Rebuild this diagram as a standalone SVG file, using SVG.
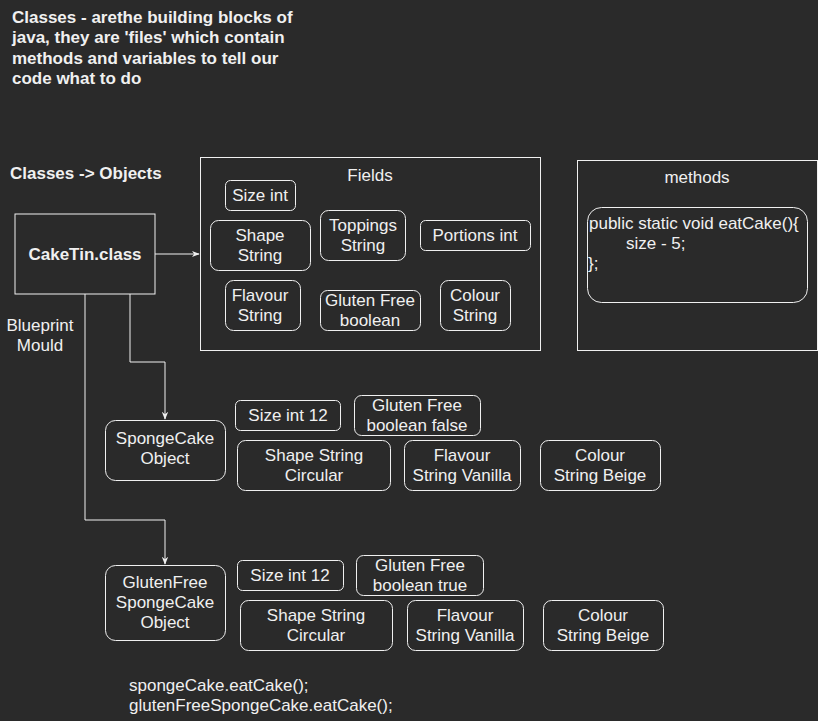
<svg xmlns="http://www.w3.org/2000/svg" width="818" height="721" viewBox="0 0 818 721">
<defs>
<style>
text{font-family:"Liberation Sans",Arial,sans-serif;fill:#f0f0f0;font-size:17px}
.t{text-anchor:middle}
.b{font-weight:bold;font-size:17px}
.box{fill:#2a2a2a;stroke:#f0f0f0;stroke-width:1}
.edge{fill:none;stroke:#f0f0f0;stroke-width:1}
</style>
<marker id="arr" viewBox="0 0 10 10" refX="9" refY="5" markerWidth="8" markerHeight="8" orient="auto" markerUnits="userSpaceOnUse">
<path d="M0,1 L10,5 L0,9 L3,5 Z" fill="#f0f0f0"/>
</marker>
</defs>
<rect width="818" height="721" fill="#2a2a2a"/>

<g id="title">
<text class="b" x="12" y="23">Classes - arethe building blocks of</text>
<text class="b" x="12" y="43">java, they are 'files' which contain</text>
<text class="b" x="12" y="64">methods and variables to tell our</text>
<text class="b" x="12" y="84">code what to do</text>
</g>
<g id="subtitle"><text class="b" x="10" y="179">Classes -&gt; Objects</text></g>
<g id="blueprint"><text class="t" x="40" y="331">Blueprint</text><text class="t" x="40" y="351">Mould</text></g>

<g id="connectors">
<path class="edge" d="M155,254 L199,254" marker-end="url(#arr)"/>
<path class="edge" d="M130,294 L130,362 L165,362 L165,419" marker-end="url(#arr)"/>
<path class="edge" d="M85,294 L85,520 L165,520 L165,564" marker-end="url(#arr)"/>
</g>

<g id="caketin"><rect class="box" x="15" y="214" width="140" height="80"/><text class="t b" x="85" y="260">CakeTin.class</text></g>

<g id="fields">
<rect class="box" x="200.5" y="157.5" width="340" height="193"/>
<text class="t" x="370" y="181">Fields</text>
</g>
<g id="f-size"><rect class="box" x="225.5" y="180.5" width="70" height="30" rx="5"/><text class="t" x="260" y="201">Size int</text></g>
<g id="f-shape"><rect class="box" x="210.5" y="220.5" width="100" height="50" rx="8"/><text class="t" x="260" y="241">Shape</text><text class="t" x="260" y="261">String</text></g>
<g id="f-toppings"><rect class="box" x="320.5" y="210.5" width="85" height="50" rx="8"/><text class="t" x="363" y="231">Toppings</text><text class="t" x="363" y="251">String</text></g>
<g id="f-portions"><rect class="box" x="420.5" y="220.5" width="110" height="30" rx="5"/><text class="t" x="475" y="241">Portions int</text></g>
<g id="f-flavour"><rect class="box" x="225.5" y="280.5" width="75" height="50" rx="8"/><text class="t" x="260" y="301">Flavour</text><text class="t" x="260" y="321">String</text></g>
<g id="f-gluten"><rect class="box" x="320.5" y="290.5" width="100" height="40" rx="7"/><text class="t" x="370" y="306">Gluten Free</text><text class="t" x="370" y="326">boolean</text></g>
<g id="f-colour"><rect class="box" x="440.5" y="280.5" width="70" height="50" rx="8"/><text class="t" x="475" y="301">Colour</text><text class="t" x="475" y="321">String</text></g>

<g id="methods">
<rect class="box" x="577.5" y="160.5" width="240" height="190"/>
<text class="t" x="697" y="183">methods</text>
</g>
<g id="m-eat"><rect class="box" x="587.5" y="207.5" width="220" height="95" rx="14"/>
<text x="589" y="229">public static void eatCake(){</text>
<text x="626" y="249">size - 5;</text>
<text x="588" y="269">};</text></g>

<g id="sponge"><rect class="box" x="105.5" y="420.5" width="120" height="60" rx="10"/><text class="t" x="165" y="444">SpongeCake</text><text class="t" x="165" y="464">Object</text></g>
<g id="s-size"><rect class="box" x="235.5" y="400.5" width="105" height="30" rx="5"/><text class="t" x="288" y="421">Size int 12</text></g>
<g id="s-gluten"><rect class="box" x="354.5" y="395.5" width="126" height="40" rx="7"/><text class="t" x="417" y="411">Gluten Free</text><text class="t" x="417" y="431">boolean false</text></g>
<g id="s-shape"><rect class="box" x="237.5" y="440.5" width="153" height="50" rx="8"/><text class="t" x="314" y="461">Shape String</text><text class="t" x="314" y="481">Circular</text></g>
<g id="s-flavour"><rect class="box" x="404.5" y="440.5" width="116" height="50" rx="8"/><text class="t" x="462" y="461">Flavour</text><text class="t" x="462" y="481">String Vanilla</text></g>
<g id="s-colour"><rect class="box" x="540.5" y="440.5" width="120" height="50" rx="8"/><text class="t" x="600" y="461">Colour</text><text class="t" x="600" y="481">String Beige</text></g>

<g id="gfsponge"><rect class="box" x="105.5" y="565.5" width="120" height="75" rx="10"/><text class="t" x="165" y="588">GlutenFree</text><text class="t" x="165" y="608">SpongeCake</text><text class="t" x="165" y="628">Object</text></g>
<g id="g-size"><rect class="box" x="237.5" y="560.5" width="106" height="30" rx="5"/><text class="t" x="290" y="581">Size int 12</text></g>
<g id="g-gluten"><rect class="box" x="356.5" y="555.5" width="127" height="40" rx="7"/><text class="t" x="420" y="571">Gluten Free</text><text class="t" x="420" y="591">boolean true</text></g>
<g id="g-shape"><rect class="box" x="240.5" y="600.5" width="152" height="50" rx="8"/><text class="t" x="316" y="621">Shape String</text><text class="t" x="316" y="641">Circular</text></g>
<g id="g-flavour"><rect class="box" x="407.5" y="600.5" width="116" height="50" rx="8"/><text class="t" x="465" y="621">Flavour</text><text class="t" x="465" y="641">String Vanilla</text></g>
<g id="g-colour"><rect class="box" x="543.5" y="600.5" width="120" height="50" rx="8"/><text class="t" x="603" y="621">Colour</text><text class="t" x="603" y="641">String Beige</text></g>

<g id="code">
<text x="129" y="691">spongeCake.eatCake();</text>
<text x="129" y="711">glutenFreeSpongeCake.eatCake();</text>
</g>
</svg>
